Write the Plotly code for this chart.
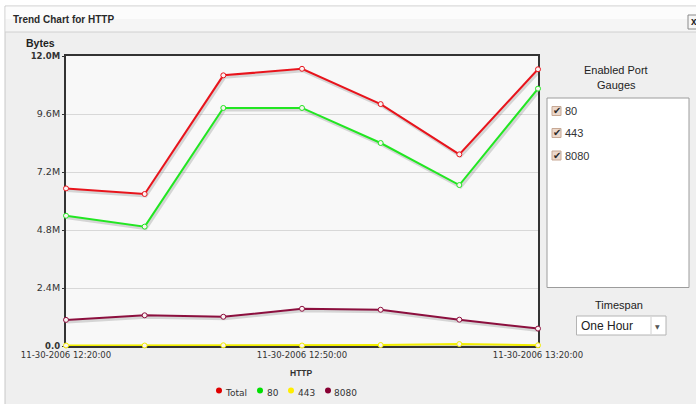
import pandas as pd
import plotly.graph_objects as go

# ---------------- data ----------------
times = ["2006-11-30 12:20:00", "2006-11-30 12:30:00", "2006-11-30 12:40:00",
         "2006-11-30 12:50:00", "2006-11-30 13:00:00", "2006-11-30 13:10:00",
         "2006-11-30 13:20:00"]
total = [6.52, 6.29, 11.20, 11.47, 10.01, 7.93, 11.45]      # millions of bytes
port80 = [5.39, 4.94, 9.85, 9.85, 8.40, 6.66, 10.65]
port443 = [0.02, 0.02, 0.03, 0.02, 0.04, 0.08, 0.03]
port8080 = [1.08, 1.27, 1.21, 1.54, 1.50, 1.09, 0.72]

series_names = ["Total", "80", "443", "8080"]
series_values = [total, port80, port443, port8080]
series_colors = ["#e8141c", "#22e622", "#f2ee00", "#8c0f3e"]
legend_colors = ["#e00000", "#00e000", "#ffee00", "#880033"]

y_tick_vals = [0, 2.4, 4.8, 7.2, 9.6, 12.0]
y_tick_text = ["<b><span style='font-size:8.5px'>0.0</span></b>", "2.4M", "4.8M", "7.2M", "9.6M",
               "<b><span style='font-size:8.5px'>12.0M</span></b>"]
x_tick_vals = [times[0], times[3], times[6]]
x_tick_text = ["11-30-2006 12:20:00", "11-30-2006 12:50:00", "11-30-2006 13:20:00"]
port_labels = ["80", "443", "8080"]

# ---------------- layout helpers (pixel -> paper) ----------------
L, R, T, B = 66, 538, 56, 346
W, H = 696, 404


def X(p):
    return (p - L) / (R - L)


def Y(p):
    return (B - p) / (B - T)


t0 = pd.Timestamp(times[0])
t1 = pd.Timestamp(times[-1])
shift_t = pd.Timedelta(seconds=10)
shift_y = 2 * 12.0 / (B - T)

fig = go.Figure()

# shadows (on hidden main axes, shifted slightly right/down)
for vals in series_values:
    fig.add_trace(go.Scatter(x=times, y=vals, mode="lines", xaxis="x", yaxis="y",
                             line=dict(color="rgba(90,90,90,0.22)", width=3),
                             hoverinfo="skip", showlegend=False))

# data lines
for name, vals, col in zip(series_names, series_values, series_colors):
    fig.add_trace(go.Scatter(x=times, y=vals, mode="lines+markers", name=name,
                             xaxis="x2", yaxis="y2",
                             line=dict(color=col, width=2),
                             marker=dict(symbol="circle", size=5, color="#fbf3f3",
                                         line=dict(color=col, width=1)),
                             cliponaxis=False, showlegend=False))

shapes = []
# dialog body
shapes.append(dict(type="rect", xref="paper", yref="paper", x0=X(5), x1=X(720), y0=Y(6), y1=Y(430),
                   fillcolor="#efefef", line=dict(color="#c8c8c8", width=1), layer="below"))
# title bar
shapes.append(dict(type="rect", xref="paper", yref="paper", x0=X(5.5), x1=X(720), y0=Y(6.5), y1=Y(19),
                   fillcolor="#fcfcfc", line=dict(width=0), layer="below"))
shapes.append(dict(type="rect", xref="paper", yref="paper", x0=X(5.5), x1=X(720), y0=Y(19), y1=Y(32),
                   fillcolor="#f5f5f5", line=dict(width=0), layer="below"))
shapes.append(dict(type="line", xref="paper", yref="paper", x0=X(5), x1=X(720), y0=Y(32), y1=Y(32),
                   line=dict(color="#d0d0d0", width=1), layer="below"))
# close button
shapes.append(dict(type="rect", xref="paper", yref="paper", x0=X(688), x1=X(702), y0=Y(15), y1=Y(29),
                   fillcolor="#f6f6f6", line=dict(color="#8a8a8a", width=1), layer="below"))
# plot background
shapes.append(dict(type="rect", xref="paper", yref="paper", x0=0, x1=1, y0=0, y1=1,
                   fillcolor="#f8f8f8", line=dict(width=0), layer="below"))
# listbox
shapes.append(dict(type="rect", xref="paper", yref="paper", x0=X(547), x1=X(689), y0=Y(98), y1=Y(287.5),
                   fillcolor="#ffffff", line=dict(color="#9c9c9c", width=1), layer="below"))
for cy in [111, 133, 155.5]:
    shapes.append(dict(type="rect", xref="paper", yref="paper", x0=X(552), x1=X(561),
                       y0=Y(cy - 4.5), y1=Y(cy + 4.5),
                       fillcolor="#ecd8cb", line=dict(color="#c7a894", width=1), layer="below"))
# dropdown
shapes.append(dict(type="rect", xref="paper", yref="paper", x0=X(576.5), x1=X(666), y0=Y(316), y1=Y(335),
                   fillcolor="#ffffff", line=dict(color="#b4b4b4", width=1), layer="below"))
shapes.append(dict(type="line", xref="paper", yref="paper", x0=X(651), x1=X(651), y0=Y(317), y1=Y(334),
                   line=dict(color="#d0d0d0", width=1), layer="below"))
# legend dots
for cx, col in zip([219, 260, 291, 328], legend_colors):
    shapes.append(dict(type="circle", xref="paper", yref="paper", x0=X(cx - 3), x1=X(cx + 3),
                       y0=Y(390.5 - 3), y1=Y(390.5 + 3), fillcolor=col, line=dict(width=0),
                       layer="above"))

sans = "Liberation Sans, Arial, sans-serif"
dv = "DejaVu Sans, Verdana, sans-serif"

ann = []


def txt(text, x, y, size, family, xanchor="left", color="#222222"):
    ann.append(dict(text=text, x=X(x), y=Y(y), xref="paper", yref="paper", showarrow=False,
                    xanchor=xanchor, yanchor="middle", font=dict(size=size, family=family, color=color)))


txt("<b>Trend Chart for HTTP</b>", 11, 19.5, 10, sans, color="#2a2a2a")
txt("<b>x</b>", 693.5, 21.5, 10, sans, xanchor="center", color="#222")
txt("<b>Bytes</b>", 24, 43, 10.5, sans, color="#222")
txt("<b>HTTP</b>", 301, 373, 8.5, sans, xanchor="center", color="#333")
for tx, name in zip([223, 264.5, 295.5, 332], series_names):
    txt(name, tx, 392.5, 9, dv, color="#333")
txt("Enabled Port", 616, 70, 11, sans, xanchor="center")
txt("Gauges", 616, 85, 11, sans, xanchor="center")
for cy, lab in zip([111, 133, 155.5], port_labels):
    txt("✔", 556.5, cy - 0.5, 10, dv, xanchor="center", color="#2a2a2a")
    txt(lab, 562.5, cy, 11, sans, color="#333")
txt("Timespan", 619, 305, 11, sans, xanchor="center")
txt("One Hour", 579, 326, 12, sans, color="#222")
txt("▼", 657.5, 326.5, 6, dv, xanchor="center", color="#555")

fig.update_layout(
    width=W, height=H,
    margin=dict(l=L, r=W - R, t=T, b=H - B, pad=0),
    paper_bgcolor="#ffffff", plot_bgcolor="rgba(0,0,0,0)",
    showlegend=False,
    shapes=shapes, annotations=ann,
    xaxis=dict(range=[t0 - shift_t, t1 - shift_t], visible=False, fixedrange=True),
    yaxis=dict(range=[0 + shift_y, 12 + shift_y], visible=False, fixedrange=True),
    xaxis2=dict(overlaying="x", anchor="y2", range=[t0, t1], tickvals=x_tick_vals, ticktext=x_tick_text,
                showgrid=False, showline=True, mirror=True, linecolor="#333333", linewidth=2,
                ticks="", zeroline=False, layer="below traces",
                tickfont=dict(size=8.5, family=dv, color="#333333")),
    yaxis2=dict(overlaying="y", anchor="x2", side="left", range=[0, 12], tickvals=y_tick_vals,
                ticktext=y_tick_text, showgrid=True, gridcolor="#d8d8d8", gridwidth=1,
                showline=True, mirror=True, linecolor="#333333", linewidth=2,
                ticks="outside", ticklen=2, tickcolor="#333333", zeroline=False, layer="below traces",
                tickfont=dict(size=9.5, family=dv, color="#333333")),
)

fig.write_html("out.html", config={"displayModeBar": False},
               post_script="document.body.style.margin='0px';")
